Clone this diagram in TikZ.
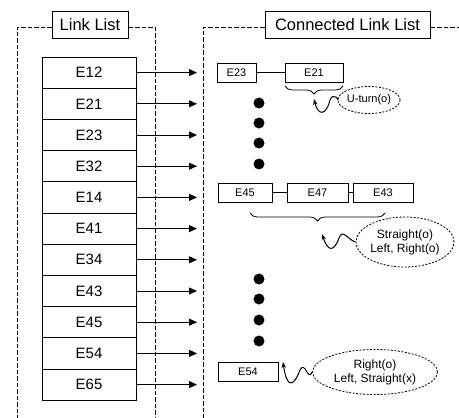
\documentclass[tikz,border=0pt]{standalone}
\usepackage{fontspec}
\setmainfont{Liberation Sans}
\usetikzlibrary{arrows.meta,decorations.pathreplacing,shapes.geometric}
\begin{document}
\begin{tikzpicture}[x=1pt,y=-1pt,
  frame/.style={line width=0.8pt, dash pattern=on 4.5pt off 2pt},
  titlebox/.style={draw, line width=1pt, minimum height=27pt, inner sep=0pt, font=\fontsize{16.5}{16.5}\selectfont},
  lbox/.style={draw, line width=0.8pt, minimum width=94pt, minimum height=31.2pt, inner sep=0pt, font=\fontsize{15}{15}\selectfont},
  sbox/.style={draw, line width=0.8pt, minimum height=19pt, inner sep=0pt, font=\fontsize{11}{11}\selectfont},
  arr/.style={line width=0.8pt, -{Triangle[length=8pt,width=7pt]}},
  brc/.style={line width=0.8pt, decorate, decoration={brace, mirror, amplitude=8pt}},
  wave/.style={line width=1pt, {Stealth[length=6pt,width=4.5pt]}-},
  bubble/.style={draw, ellipse, line width=0.8pt, dash pattern=on 2pt off 1.5pt, inner sep=0pt, align=center, font=\fontsize{12}{14}\selectfont},
  dotc/.style={fill=black}
]
\useasboundingbox (0,0) rectangle (459,418);

% titles
\node[titlebox, minimum width=76pt] (t1) at (90,24.5) {Link List};
\node[titlebox, minimum width=165pt] (t2) at (347.5,24.5) {Connected Link List};

% frames
\draw[frame] (t1.west |- 0,27) -- (17,27) -- (17,418);
\draw[frame] (t1.east |- 0,27) -- (155,27) -- (155,418);
\draw[frame] (t2.west |- 0,27) -- (203,27) -- (203,418);
\draw[frame] (t2.east |- 0,27) -- (459,27);

% link list
\foreach \lab [count=\i] in {E12,E21,E23,E32,E14,E41,E34,E43,E45,E54,E65} {
  \pgfmathsetmacro{\yy}{57+31.2*(\i-0.5)}
  \node[lbox] (r\i) at (89,\yy) {\lab};
  \coordinate (a\i) at (197,\yy);
  \draw[arr] (r\i.east) -- (a\i);
}

% connected list group 1
\node[sbox, minimum width=39pt] (c23) at (236.5,72.5) {E23};
\node[sbox, minimum width=58pt] (c21) at (314,72.5) {E21};
\draw[line width=0.8pt] (c23) -- (c21);
\coordinate (b1s) at (285,86);
\coordinate (b1e) at (343,86);
\draw[brc] (b1s) -- (b1e);
\coordinate (b1t) at (314,99);
\node[bubble, minimum width=44pt, minimum height=27pt, font=\fontsize{11}{13}\selectfont] (u1) at (369,100) {U-turn(o)};
\draw[wave] (b1t) .. controls (318,116) and (326,116) .. (330,100) .. controls (333,92) and (340,100) .. (u1.west);

\foreach \yy in {103,123,143,164} { \fill[dotc] (259,\yy) circle (5.5pt); }

% group 2
\node[sbox, minimum width=54pt] (c45) at (245,192.5) {E45};
\node[sbox, minimum width=61pt] (c47) at (317.5,192.5) {E47};
\node[sbox, minimum width=60pt] (c43) at (383,192.5) {E43};
\draw[line width=0.8pt] (c45) -- (c47);
\draw[line width=0.8pt] (c47) -- (c43);
\coordinate (b2s) at (250,213);
\coordinate (b2e) at (385,213);
\draw[brc] (b2s) -- (b2e);
\coordinate (b2t) at (322,234);
\node[bubble, minimum width=96pt, minimum height=50pt] (u2) at (405,242) {Straight(o)\\Left, Right(o)};
\draw[wave] (b2t) .. controls (328,252) and (334,252) .. (339,238) .. controls (343,228) and (348,240) .. (u2.west);

\foreach \yy in {279,299,320,341} { \fill[dotc] (259,\yy) circle (5.5pt); }

% group 3
\node[sbox, minimum width=60pt] (c54) at (248,372) {E54};
\coordinate (w3) at (283,362);
\node[bubble, minimum width=125pt, minimum height=45pt] (u3) at (375,372) {Right(o)\\Left, Straight(x)};
\draw[wave] (w3) .. controls (287,390) and (294,386) .. (300,370) .. controls (305,360) and (308,382) .. (u3.west);
\end{tikzpicture}
\end{document}
